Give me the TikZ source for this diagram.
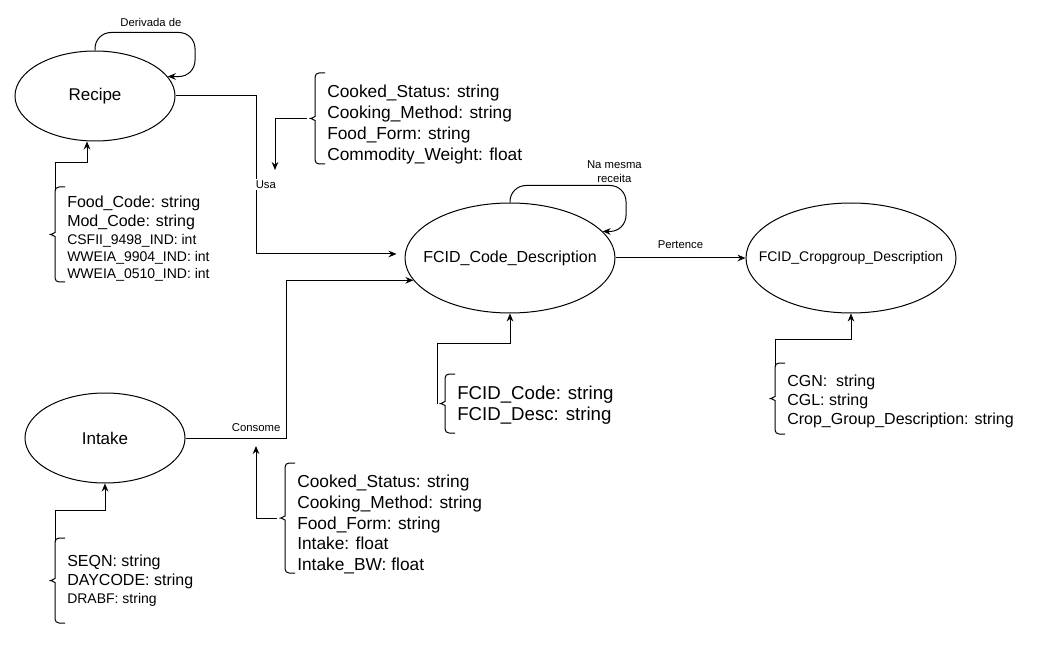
\documentclass[tikz,border=0pt]{standalone}
\usepackage{fontspec}
\setmainfont{Liberation Sans}
\usepackage{tikz}
\usetikzlibrary{arrows.meta, shapes.geometric, positioning}
\newcommand{\smallattr}{\fontsize{10.5}{12.75}\selectfont}
% chave a esquerda de uma lista de atributos: #1 nome, #2 x da ponta direita, #3 topo, #4 base
\newcommand{\attrbrace}[4]{%
  \coordinate (#1-top) at (#2-10,#3+4);
  \coordinate (#1-tip) at (#2-18,{(#3+#4)/2});
  \draw[bracestyle] (#2,#3) -- (#2-10,#3) -- (#2-10,{(#3+#4)/2-6}) to[out=-90, in=0] (#1-tip)
    to[out=0, in=90] (#2-10,{(#3+#4)/2+6}) -- (#2-10,#4) -- (#2,#4);}
\tikzset{
  entity/.style={ellipse, draw, line width=0.75pt, inner sep=0pt},
  attrlist/.style={anchor=west, align=left, inner xsep=1.5pt, inner ysep=0pt},
  bracestyle/.style={line width=0.75pt, rounded corners=3pt},
  rel/.style={->, line width=0.75pt},
  rellabel/.style={font=\fontsize{8.5}{10.5}\selectfont},
}

\begin{document}
\begin{tikzpicture}[x=0.75pt, y=-0.75pt, >={Stealth[length=6pt, width=5pt]}]
\useasboundingbox (0,0) rectangle (1061,649);

% entidades
\node[entity, minimum width=120pt, minimum height=67.5pt, label={[font=\fontsize{12.75}{15}\selectfont]center:Recipe}] (recipe) at (95,96) {};
\node[entity, minimum width=120pt, minimum height=67.5pt, label={[font=\fontsize{12.75}{15}\selectfont]center:Intake}] (intake) at (105,438) {};
\node[entity, minimum width=157.5pt, minimum height=82.5pt, label={[font=\fontsize{12}{14}\selectfont]center:FCID\_Code\_Description}] (fcid) at (510,258) {};
\node[entity, minimum width=157.5pt, minimum height=82.5pt, label={[font=\fontsize{10.5}{12}\selectfont]center:FCID\_Cropgroup\_Description}, right=97.5pt of fcid] (crop) {};

% atributos
\node[attrlist, font=\fontsize{12}{12.75}\selectfont] (recipeattr) at (65,239)
  {Food\_Code: string\\[1.5pt] Mod\_Code: string\\[0.75pt] \smallattr CSFII\_9498\_IND: int\\ \smallattr WWEIA\_9904\_IND: int\\ \smallattr WWEIA\_0510\_IND: int};
\node[attrlist, font=\fontsize{13}{15.75}\selectfont] (useattr) at (325,124.5)
  {Cooked\_Status: string\\ Cooking\_Method: string\\ Food\_Form: string\\ Commodity\_Weight: float};
\node[attrlist, font=\fontsize{12}{13.5}\selectfont] (intakeattr) at (65,580.5)
  {SEQN: string\\[0.75pt] DAYCODE: string\\ \smallattr DRABF: string};
\node[attrlist, font=\fontsize{13}{15.5}\selectfont] (consomeattr) at (295,524.5)
  {Cooked\_Status: string\\ Cooking\_Method: string\\ Food\_Form: string\\ Intake: float\\ Intake\_BW: float};
\node[attrlist, font=\fontsize{14}{15.75}\selectfont] (fcidattr) at (455,405.5)
  {FCID\_Code: string\\ FCID\_Desc: string};
\node[attrlist, font=\fontsize{12}{14.25}\selectfont] (cropattr) at (785,401)
  {CGN:\ \ string\\ CGL: string\\ Crop\_Group\_Description: string};

\attrbrace{recipeattr}{65}{187}{282}
\attrbrace{useattr}{325}{73}{164}
\attrbrace{intakeattr}{65}{538}{623}
\attrbrace{consomeattr}{295}{463}{573}
\attrbrace{fcidattr}{455}{374}{433}
\attrbrace{cropattr}{785}{363}{434}

\coordinate (usatip) at (275,170);
\coordinate (consometip) at (256,446);

% relacoes
\draw[rel, rounded corners=12pt] (recipe.north) -- ++(0,-18) -- ++(100,0) node[pos=0.56, above=1pt, rellabel]{Derivada de} |- (recipe.15);
\draw[rel, rounded corners=12pt] (fcid.north) -- ++(0,-17) -- ++(116,0) node[pos=0.9, above=-1.5pt, rellabel, align=center]{Na mesma\\receita} |- (fcid.16);
\draw[rel] (recipe.east) -- ++(81,0) |- node[pos=0.28, fill=white, inner sep=1pt, xshift=7pt, rellabel]{Usa} ([shift={(-6pt,3pt)}]fcid.west);
\draw[rel] (intake.east) -- ++(101,0) node[pos=0.7, above=1pt, rellabel]{Consome} |- (fcid.193);
\draw[rel] (fcid) -- node[above=3pt, rellabel]{Pertence} (crop);

% atributos -> relacoes
\draw[rel] (recipeattr-top) -- ++(0,-28) -| ([xshift=-6pt]recipe.south);
\draw[rel] (intakeattr-top) -- ++(0,-32) -| (intake.south);
\draw[rel] (cropattr-top) -- ++(0,-28) -| (crop.south);
\draw[rel] (fcidattr-tip) -- ++(0,-60.5) -| (fcid.south);
\draw[rel] (useattr-tip) -| (usatip);
\draw[rel] (consomeattr-tip) -| (consometip);
\end{tikzpicture}
\end{document}
